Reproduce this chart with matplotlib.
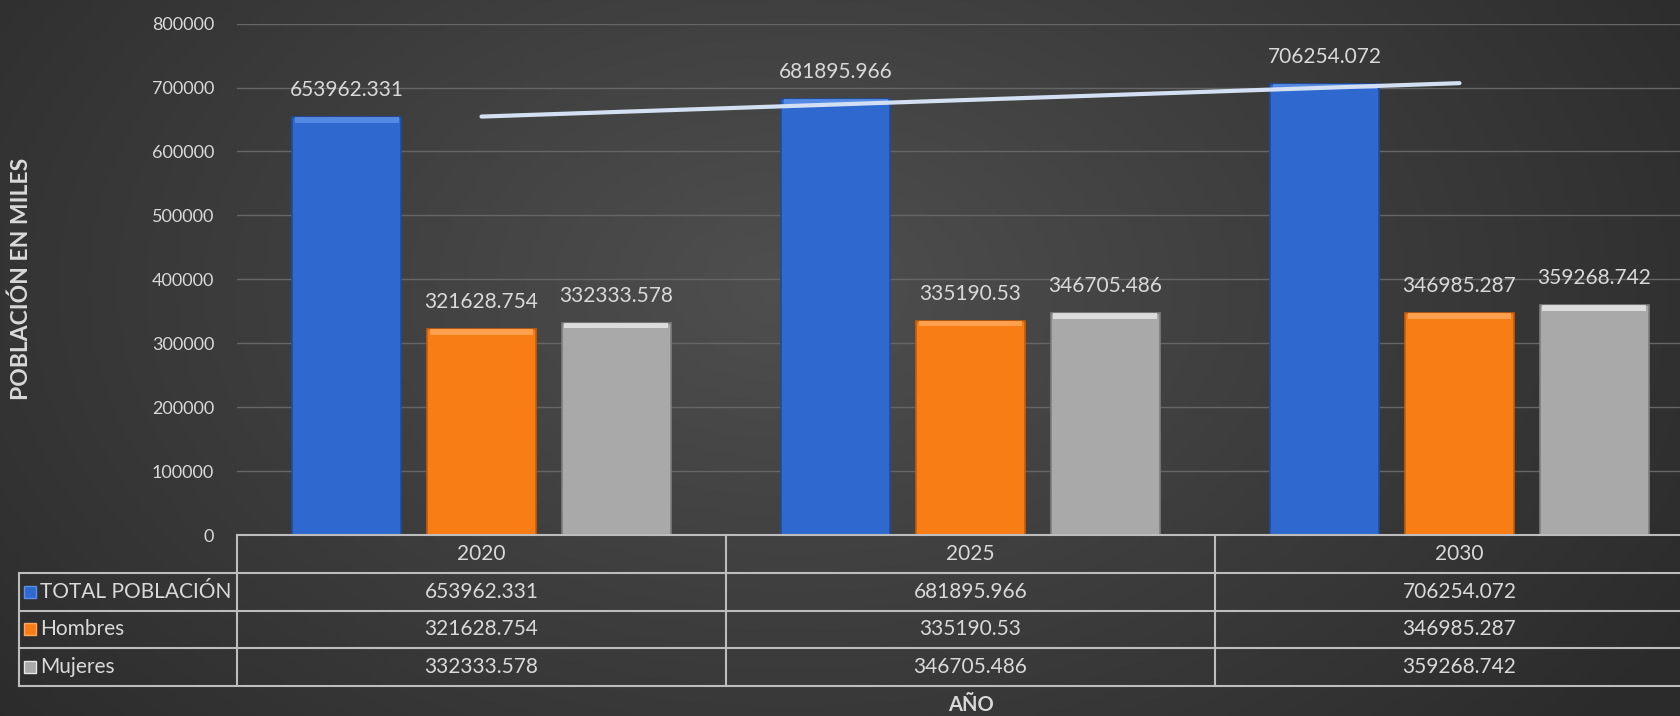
import numpy as np
import matplotlib.pyplot as plt
from matplotlib.patches import Rectangle

plt.rcParams['font.family'] = ['Lato', 'DejaVu Sans']

# data
years = ["2020", "2025", "2030"]
series_names = ["TOTAL POBLACIÓN", "Hombres", "Mujeres"]
total = [653962.331, 681895.966, 706254.072]
hombres = [321628.754, 335190.53, 346985.287]
mujeres = [332333.578, 346705.486, 359268.742]
ytick_values = [0, 100000, 200000, 300000, 400000, 500000, 600000, 700000, 800000]

series = [total, hombres, mujeres]
bar_colors = ["#2f69d0", "#f97d15", "#a9a9a9"]
edge_colors = ["#1f4b9c", "#c65d08", "#7e7e7e"]
top_colors = ["#5b90e8", "#ffa85a", "#e6e6e6"]
text_col = "#d9d9d9"
line_col = "#bdbdbd"

W, H = 1681, 716
fig = plt.figure(figsize=(W / 100, H / 100), dpi=100)

# dark radial background like the excel theme
bg = fig.add_axes([0, 0, 1, 1], zorder=-10)
yy, xx = np.mgrid[0:1:H * 1j, 0:1:W * 1j]
d = np.sqrt(((xx - 0.47) / 0.62) ** 2 + ((yy - 0.40) / 0.95) ** 2)
shade = 0.31 - 0.14 * np.clip(d, 0, 1)
bg.imshow(np.dstack([shade, shade, shade]), aspect="auto", extent=[0, 1, 0, 1])
bg.axis("off")

# plot area (right side runs past the picture edge, as in the original)
ax_left, ax_right, ax_top, ax_bot = 237, 1704, 23.6, 535
aw, ah = ax_right - ax_left, ax_bot - ax_top
ax = fig.add_axes([ax_left / W, 1 - ax_bot / H, aw / W, ah / H])
ax.set_facecolor("none")

x = np.arange(len(years))
offsets = [-0.276, 0, 0.276]
width = 0.2215
bevel = 9000

for i in range(3):
    vals = np.array(series[i])
    ax.bar(x + offsets[i], vals, width, color=bar_colors[i], edgecolor=edge_colors[i],
           linewidth=1.2, zorder=3)
    ax.bar(x + offsets[i], [bevel] * 3, width * 0.96, bottom=vals - bevel,
           color=top_colors[i], linewidth=0, zorder=4, alpha=0.85)
    for xi, v in zip(x + offsets[i], series[i]):
        ax.annotate(str(v), (xi, v), xytext=(0, 17), textcoords="offset pixels",
                    ha="center", va="bottom", fontsize=15, color=text_col, zorder=6)

# linear trendline of the total
coef = np.polyfit(x, total, 1)
ax.plot(x, np.polyval(coef, x), color="#d3e0f3", linewidth=3, solid_capstyle="round", zorder=5)

ax.set_xlim(-0.5, 2.5)
ax.set_ylim(0, 800000)
ax.set_yticks(ytick_values)
ax.set_yticklabels([str(v) for v in ytick_values])
ax.tick_params(axis="y", length=0, pad=16.5, labelsize=13, labelcolor=text_col)
ax.set_xticks([])
ax.grid(axis="y", color="#666666", linewidth=1, zorder=0)
for s in ax.spines.values():
    s.set_visible(False)

# data table under the plot, drawn as a grid in axes coordinates
tb_left = (19 - ax_left) / aw
tb_h = (686 - ax_bot) / ah
r = tb_h / 4
tr = ax.transAxes
kw = dict(transform=tr, color=line_col, linewidth=1.5, clip_on=False, zorder=6)
ax.plot([0, 1], [0, 0], **kw)
for k in range(1, 5):
    ax.plot([tb_left, 1], [-k * r, -k * r], **kw)
ax.plot([tb_left, tb_left], [-r, -4 * r], **kw)
for j in range(4):
    ax.plot([j / 3, j / 3], [0, -4 * r], **kw)

for j, yr in enumerate(years):
    ax.text((j + 0.5) / 3, -0.5 * r, yr, transform=tr, ha="center", va="center",
            fontsize=15, color=text_col)
for i, name in enumerate(series_names):
    cy = -(i + 1.5) * r
    ax.text((40 - ax_left) / aw, cy, name, transform=tr, ha="left", va="center",
            fontsize=15, color=text_col)
    for j in range(3):
        ax.text((j + 0.5) / 3, cy, str(series[i][j]), transform=tr, ha="center",
                va="center", fontsize=15, color=text_col)
    # legend key
    mk_w, mk_h = 12 / aw, 12 / ah
    ax.add_patch(Rectangle(((24 - ax_left) / aw, cy - mk_h / 2), mk_w, mk_h,
                           transform=tr, facecolor=bar_colors[i],
                           edgecolor=top_colors[i], linewidth=1, clip_on=False, zorder=7))

fig.text(21.5 / W, 1 - (ax_top + ax_bot) / 2 / H, "POBLACIÓN EN MILES", rotation=90,
         ha="center", va="center", fontsize=16.5, fontweight="bold", color=text_col)
fig.text((ax_left + 1467 / 2) / W, 1 - 705 / H, "AÑO", ha="center", va="center",
         fontsize=14.5, fontweight="bold", color=text_col)

fig.savefig("out.png", dpi=100)
